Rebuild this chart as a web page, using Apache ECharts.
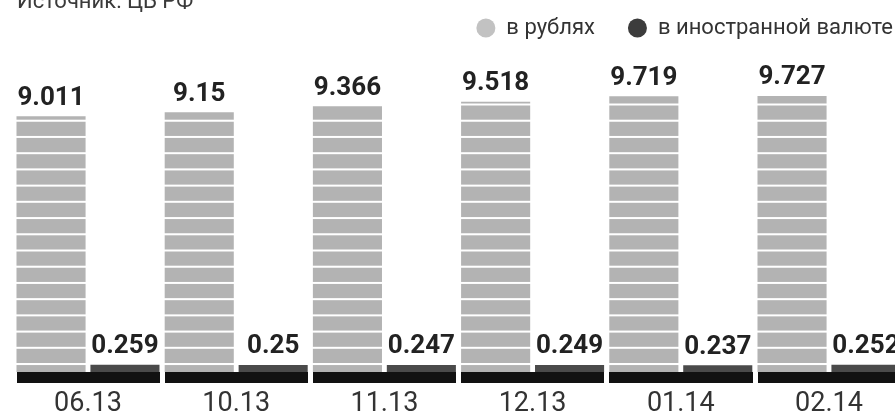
<!DOCTYPE html>
<html><head><meta charset="utf-8">
<script src="https://cdn.jsdelivr.net/npm/echarts@6/dist/echarts.min.js"></script>
<style>html,body{margin:0;padding:0;background:#fff}#c{width:895px;height:414px}</style>
</head><body><div id="c"></div>
<script>
const categories = ['06.13', '10.13', '11.13', '12.13', '01.14', '02.14'];
const rubles = [9.011, 9.15, 9.366, 9.518, 9.719, 9.727];
const foreign = [0.259, 0.25, 0.247, 0.249, 0.237, 0.252];
const seriesNames = ['в рублях', 'в иностранной валюте'];
const sourceText = 'Источник: ЦБ РФ';

// horizontal stripe tile for the rouble bars
const tile = document.createElement('canvas');
tile.width = 4; tile.height = 16;
const tctx = tile.getContext('2d');
tctx.fillStyle = '#b3b3b3'; tctx.fillRect(0, 0, 4, 14);
tctx.fillStyle = '#ffffff'; tctx.fillRect(0, 14, 4, 2);
const stripeScale = 16.22 / 16;
const stripeY = 364 - stripeScale * 367;

const FONT = 'Roboto';
const valueLabel = {
  show: true, position: 'top', distance: 5,
  fontFamily: FONT, fontSize: 26, fontWeight: 'bold', color: '#222'
};

const chart = echarts.init(document.getElementById('c'));
chart.setOption({
  animation: false,
  backgroundColor: '#ffffff',
  title: {
    text: sourceText, left: 17, top: -9, padding: 0,
    textStyle: { fontFamily: FONT, fontSize: 22, fontWeight: 'normal', color: '#3a3a3a' }
  },
  legend: {
    right: 2, top: 17, padding: 0, itemWidth: 31, itemHeight: 19, itemGap: 33,
    icon: 'circle',
    textStyle: { fontFamily: FONT, fontSize: 22, color: '#333' },
    data: [
      { name: seriesNames[0], itemStyle: { color: '#c2c2c2' } },
      { name: seriesNames[1], itemStyle: { color: '#3c3c3c' } }
    ]
  },
  grid: { left: 13.9, right: -8.1, top: 31.4, bottom: 42, containLabel: false, outerBoundsMode: 'none' },
  xAxis: [
    {
      type: 'category', data: categories, offset: 5.5,
      axisLine: { onZero: false, lineStyle: { color: '#111111', width: 11, cap: 'butt' } },
      axisTick: { show: false },
      axisLabel: { margin: 13, fontFamily: FONT, fontSize: 27, color: '#333' }
    },
    {
      type: 'category', data: categories, position: 'bottom', offset: 11,
      axisLine: { show: false, onZero: false },
      axisTick: { show: true, inside: true, length: 11, lineStyle: { color: '#ffffff', width: 5, cap: 'butt' } },
      axisLabel: { show: false }
    }
  ],
  yAxis: { type: 'value', min: 0, max: 12, show: false },
  series: [
    {
      name: seriesNames[0], type: 'bar', data: rubles,
      barCategoryGap: '3.5%', barGap: '7%',
      itemStyle: { color: { image: tile, repeat: 'repeat', x: 0, y: stripeY, scaleX: 1, scaleY: stripeScale } },
      label: valueLabel
    },
    {
      name: seriesNames[1], type: 'bar', data: foreign,
      barCategoryGap: '3.5%', barGap: '7%',
      itemStyle: { color: '#4a4a4a' },
      label: valueLabel
    }
  ]
});
</script>
</body></html>
